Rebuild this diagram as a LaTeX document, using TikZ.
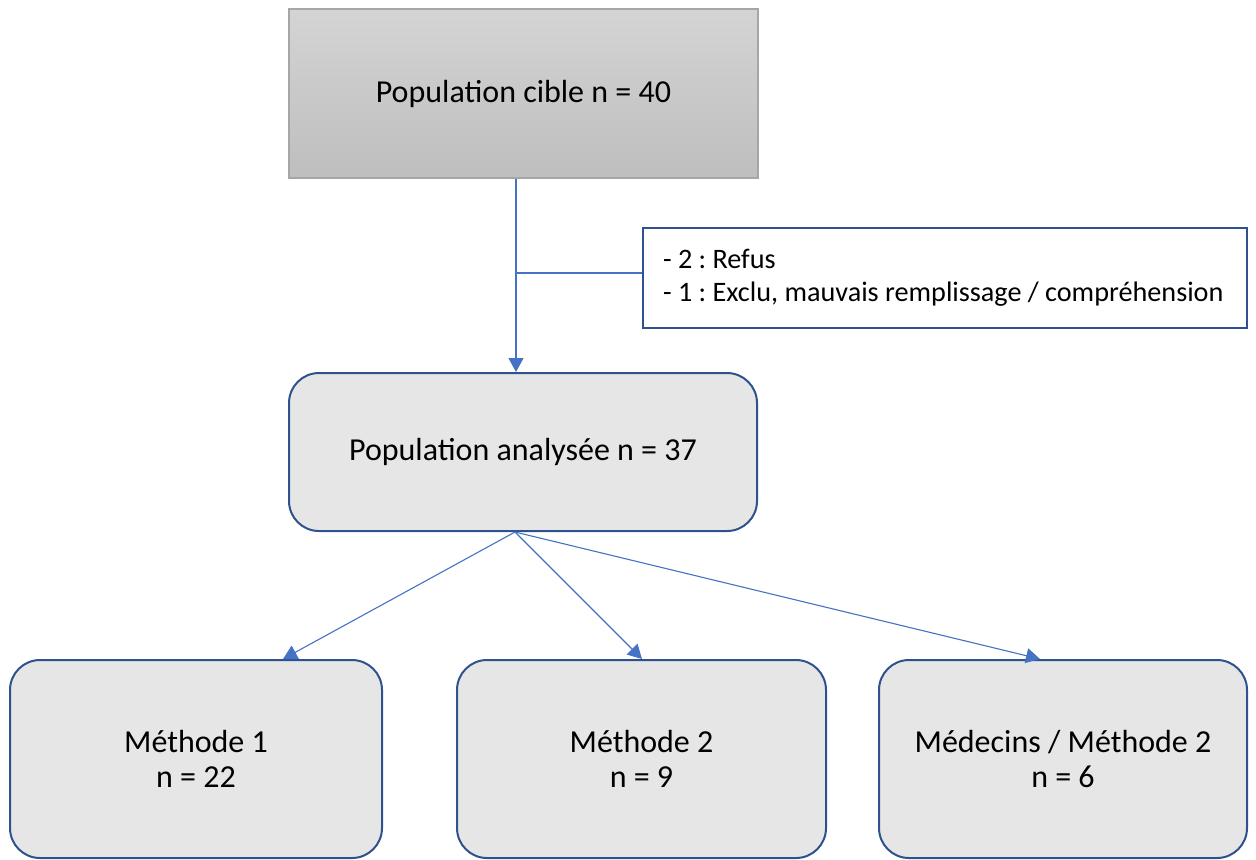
\documentclass[tikz,border=0pt]{standalone}
\usepackage{fontspec}
\setmainfont{Carlito}
\usetikzlibrary{arrows.meta,calc}
\definecolor{boxfill}{HTML}{E6E6E6}
\definecolor{boxline}{HTML}{2F528F}
\definecolor{arrowblue}{HTML}{4472C4}
\definecolor{topline}{HTML}{A6A6A6}
\definecolor{toptop}{HTML}{D4D4D4}
\definecolor{topbot}{HTML}{BEBEBE}
\frenchspacing
\begin{document}
\begin{tikzpicture}[x=0.5pt,y=-0.5pt,
  mainfont/.style={font=\fontsize{16}{17.5}\selectfont},
  topbox/.style={draw=topline, line width=0.6pt, top color=toptop, bottom color=topbot, align=center, inner sep=0pt, mainfont},
  rbox/.style={draw=boxline, line width=1pt, fill=boxfill, rounded corners=15pt, align=center, inner sep=0pt, mainfont},
  notebox/.style={draw=boxline, line width=1pt, fill=white, align=flush left, inner xsep=10pt, inner ysep=0pt, text width=282pt, minimum height=50pt, font=\fontsize{14.1}{16.5}\selectfont},
  conn/.style={draw=arrowblue, line width=0.55pt, -{Triangle[length=7pt,width=7.5pt]}},
  plain/.style={draw=arrowblue, line width=0.55pt}]
\useasboundingbox (0,0) rectangle (1256,859);
\node[topbox, minimum width=234.5pt, minimum height=84.5pt] (top) at (523.5,93.5) {Population cible n = 40};
\node[rbox, minimum width=234pt, minimum height=79pt] (pop) at (523,452) {Population analysée n = 37};
\node[notebox] (excl) at (945,278) {- 2 : Refus\\- 1 : Exclu, mauvais remplissage / compréhension};
\node[rbox, minimum width=186pt, minimum height=99pt] (m1) at (196,759) {Méthode 1\\n = 22};
\node[rbox, minimum width=184.5pt, minimum height=99pt] (m2) at (641.5,759) {Méthode 2\\n = 9};
\node[rbox, minimum width=184pt, minimum height=99pt] (m3) at (1063,759) {Médecins / Méthode 2\\n = 6};
\coordinate (trunk) at ([xshift=-3.75pt]top.south);
\coordinate (trunkend) at ([xshift=-3.5pt]pop.north);
\coordinate (tap) at ([yshift=2.5pt]excl.west);
\coordinate (fan) at ([xshift=-4pt]pop.south);
\draw[conn] (trunk) -- (trunkend);
\draw[plain] (tap) -- (tap -| trunk);
\draw[conn] (fan) -- ([xshift=43.5pt]m1.north);
\draw[conn] (fan) -- ([xshift=0.25pt]m2.north);
\draw[conn] (fan) -- ([xshift=-11.5pt]m3.north);
\end{tikzpicture}
\end{document}
